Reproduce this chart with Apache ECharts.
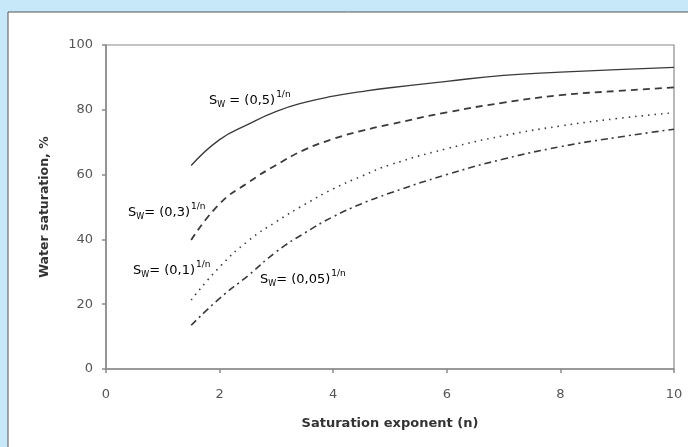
<!DOCTYPE html>
<html lang="en">
<head>
<meta charset="UTF-8">
<title>Water saturation</title>
<script src="https://cdn.jsdelivr.net/npm/echarts@6/dist/echarts.min.js"></script>
<style>
  html, body { margin: 0; padding: 0; background: #c7e8f8; }
  #container { width: 688px; height: 447px; }
</style>
</head>
<body>
<div id="container"></div>
<script>
// saturation exponent n
var nValues = [1.5, 2, 2.5, 3, 3.5, 4, 4.5, 5, 6, 7, 8, 9, 10];
// water saturation, %
var sw05 = [62.8, 70.8, 75.5, 79.5, 82.3, 84.2, 85.6, 86.8, 88.8, 90.6, 91.6, 92.4, 93.1];
var sw03 = [39.8, 51.0, 57.5, 63.0, 67.7, 71.0, 73.5, 75.5, 79.2, 82.2, 84.5, 85.8, 86.9];
var sw01 = [21.3, 31.5, 39.5, 45.5, 50.8, 55.6, 59.5, 63.0, 68.0, 72.0, 75.0, 77.3, 79.1];
var sw005 = [13.5, 21.8, 28.8, 36.2, 42.0, 47.0, 51.0, 54.3, 60.0, 64.8, 68.6, 71.5, 74.0];
var xTicks = [0, 2, 4, 6, 8, 10];
var yTicks = [0, 20, 40, 60, 80, 100];

function pairs(ys) {
  return nValues.map(function (n, i) { return [n, ys[i]]; });
}

// S with a small W below, then the base, then 1/n raised
var rich = {
  s: { fontSize: 13, fontFamily: 'DejaVu Sans', color: '#555', lineHeight: 22 },
  w: { fontSize: 8, fontFamily: 'DejaVu Sans', color: '#555', lineHeight: 8, padding: [9, 0, 0, 0] },
  t: { fontSize: 13, fontFamily: 'DejaVu Sans', color: '#555', lineHeight: 22 },
  p: { fontSize: 9, fontFamily: 'DejaVu Sans', color: '#555', lineHeight: 10, padding: [0, 0, 12, 1] }
};

function swLabel(txt, x, y) {
  return {
    type: 'text', left: x, top: y, z: 10,
    style: { text: '{s|S}{w|W}{t|' + txt + '}{p|1/n}', rich: rich }
  };
}

function line(name, ys, dash, width) {
  return {
    name: name, type: 'line', data: pairs(ys), smooth: 0.5,
    showSymbol: false, silent: true,
    lineStyle: { color: '#3a3a3a', width: width, type: dash }
  };
}

var chart = echarts.init(document.getElementById('container'));
chart.setOption({
  backgroundColor: '#c7e8f8',
  animation: false,
  graphic: [
    { type: 'rect', z: -10, shape: { x: 8, y: 12, width: 700, height: 460 },
      style: { fill: '#fff', stroke: '#555', lineWidth: 1 } },
    swLabel(' = (0,5)', 209, 90),
    swLabel('= (0,3)', 128, 202),
    swLabel('= (0,1)', 133, 260),
    swLabel('= (0,05)', 260, 269)
  ],
  grid: { left: 106, right: 14, top: 45, bottom: 78, show: true, borderColor: '#8a8a8a', borderWidth: 1.2 },
  xAxis: {
    type: 'value', min: 0, max: 10, interval: 2,
    name: 'Saturation exponent (n)', nameLocation: 'middle', nameGap: 48,
    nameTextStyle: { fontFamily: 'DejaVu Sans', fontWeight: 'bold', fontSize: 13, color: '#333' },
    axisLine: { lineStyle: { color: '#8a8a8a', width: 1.5 } },
    axisTick: { length: 4, lineStyle: { color: '#8a8a8a', width: 1.5 } },
    axisLabel: { fontFamily: 'DejaVu Sans', fontSize: 13, color: '#555', margin: 19,
      formatter: function (v) { return xTicks.indexOf(v) >= 0 ? String(v) : ''; } },
    splitLine: { show: false }
  },
  yAxis: {
    type: 'value', min: 0, max: 100, interval: 20,
    name: 'Water saturation, %', nameLocation: 'middle', nameGap: 55,
    nameTextStyle: { fontFamily: 'DejaVu Sans', fontWeight: 'bold', fontSize: 12.5, color: '#333' },
    axisLine: { show: true, lineStyle: { color: '#8a8a8a', width: 1.5 } },
    axisTick: { show: true, length: 4, lineStyle: { color: '#8a8a8a', width: 1.5 } },
    axisLabel: { fontFamily: 'DejaVu Sans', fontSize: 13, color: '#555', margin: 13,
      formatter: function (v) { return yTicks.indexOf(v) >= 0 ? String(v) : ''; } },
    splitLine: { show: false }
  },
  series: [
    line('(0,5)', sw05, 'solid', 1.3),
    line('(0,3)', sw03, [7, 5], 1.8),
    line('(0,1)', sw01, [1.5, 5], 1.6),
    line('(0,05)', sw005, [7, 4, 2, 4], 1.6)
  ]
});
</script>
</body>
</html>
